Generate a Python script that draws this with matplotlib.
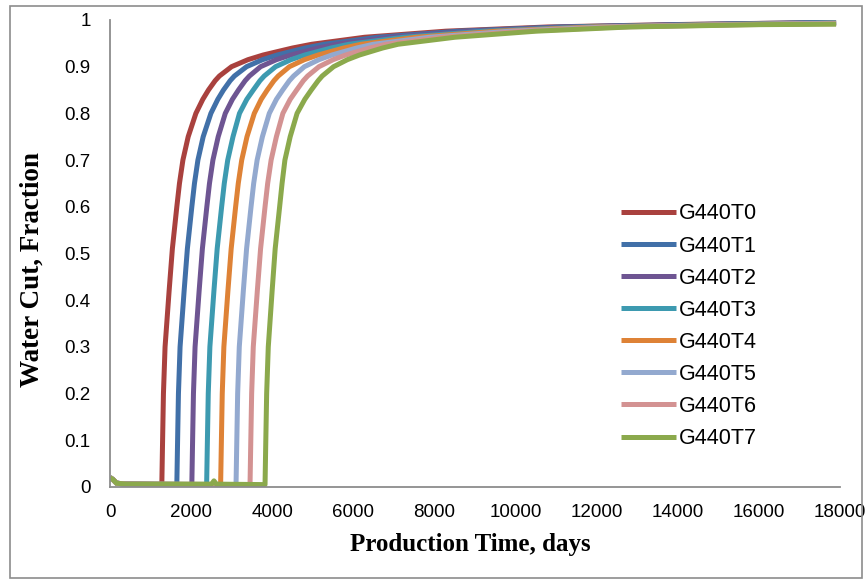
import matplotlib
matplotlib.use('Agg')
import matplotlib.pyplot as plt
from matplotlib.patches import Rectangle

# series names and colours (Excel style palette)
names = ['G440T0', 'G440T1', 'G440T2', 'G440T3', 'G440T4', 'G440T5', 'G440T6', 'G440T7']
colors = ['#A9413E', '#4170A8', '#6E5592', '#3D9AB0', '#DE8236', '#93A9CF', '#D39292', '#8BA94C']

# early production, before water breakthrough (same for all runs)
pre_days = [0, 80, 160, 400]
pre_wc = [0.02, 0.015, 0.008, 0.006]

# water cut levels and the day at which each run reaches them
wc_levels = [0.005, 0.08, 0.2, 0.3, 0.42, 0.51, 0.6, 0.65, 0.7, 0.75, 0.8, 0.83, 0.85, 0.87,
             0.88, 0.9, 0.915, 0.925, 0.94, 0.948, 0.963, 0.976, 0.985, 0.99]
days_at_level = [
    [1275, 1290, 1315, 1355, 1455, 1535, 1645, 1710, 1795, 1925, 2115, 2285, 2425, 2590,
     2695, 2995, 3400, 3775, 4500, 4975, 6275, 8275, 10775, 13775],
    [1645, 1660, 1685, 1725, 1825, 1905, 2015, 2080, 2165, 2295, 2485, 2655, 2795, 2960,
     3065, 3365, 3760, 4120, 4810, 5280, 6600, 8600, 11070, 14090],
    [2015, 2030, 2055, 2095, 2195, 2275, 2385, 2450, 2535, 2665, 2840, 3015, 3165, 3330,
     3435, 3710, 4100, 4460, 5130, 5580, 6920, 8920, 11360, 14410],
    [2380, 2395, 2420, 2460, 2560, 2640, 2750, 2815, 2900, 3030, 3190, 3370, 3530, 3695,
     3800, 4080, 4460, 4800, 5450, 5890, 7240, 9240, 11650, 14730],
    [2725, 2740, 2765, 2805, 2905, 2985, 3095, 3160, 3245, 3375, 3555, 3725, 3875, 4040,
     4145, 4420, 4790, 5130, 5760, 6190, 7550, 9550, 11930, 15040],
    [3105, 3120, 3145, 3185, 3285, 3365, 3475, 3540, 3625, 3755, 3925, 4100, 4255, 4420,
     4525, 4790, 5150, 5470, 6080, 6490, 7870, 9870, 12220, 15360],
    [3450, 3465, 3490, 3530, 3630, 3710, 3820, 3885, 3970, 4100, 4260, 4440, 4600, 4765,
     4870, 5150, 5500, 5810, 6400, 6800, 8180, 10180, 12510, 15680],
    [3820, 3835, 3860, 3900, 3995, 4070, 4180, 4240, 4310, 4440, 4610, 4800, 4960, 5130,
     5230, 5510, 5850, 6150, 6720, 7100, 8500, 10500, 12800, 16000],
]
end_day = 17900
end_wc = [0.995, 0.995, 0.994, 0.994, 0.993, 0.993, 0.992, 0.991]

# small bump on the last run before breakthrough
bump_days = [2500, 2560, 2620]
bump_wc = [0.006, 0.013, 0.006]

plt.rcParams['font.family'] = ['Liberation Sans', 'DejaVu Sans']

fig = plt.figure(figsize=(8.67, 5.79), dpi=100)
ax = fig.add_axes([0.127, 0.159, 0.842, 0.8065])

for i, name in enumerate(names):
    x = pre_days + days_at_level[i] + [end_day]
    y = pre_wc + wc_levels + [end_wc[i]]
    if i == 7:
        x = pre_days + bump_days + days_at_level[i] + [end_day]
        y = pre_wc + bump_wc + wc_levels + [end_wc[i]]
    ax.plot(x, y, color=colors[i], lw=3.6, label=name,
            solid_joinstyle='round', solid_capstyle='butt')

ax.set_xlim(0, 18000)
ax.set_ylim(0, 1)
ax.set_xticks(range(0, 18001, 2000))
ax.set_yticks([i / 10 for i in range(11)])
ax.set_yticklabels(['0', '0.1', '0.2', '0.3', '0.4', '0.5', '0.6', '0.7', '0.8', '0.9', '1'])
ax.tick_params(axis='both', length=0, labelsize=13.5)
ax.tick_params(axis='y', pad=14)
ax.tick_params(axis='x', pad=12)

for s in ['top', 'right']:
    ax.spines[s].set_visible(False)
for s in ['left', 'bottom']:
    ax.spines[s].set_color('#8c8c8c')
    ax.spines[s].set_linewidth(1.3)

ax.set_xlabel('Production Time, days', family='Liberation Serif', fontweight='bold', fontsize=18)
ax.set_ylabel('Water Cut, Fraction', family='Liberation Serif', fontweight='bold', fontsize=19.5)
ax.xaxis.set_label_coords(0.493, -0.099)
ax.yaxis.set_label_coords(-0.089, 0.465)

ax.legend(loc='upper left', bbox_to_anchor=(0.7, 0.607), frameon=False, fontsize=15.5,
          handlelength=2.55, handletextpad=0.15, labelspacing=0.515, borderaxespad=0, borderpad=0)

fig.patches.append(Rectangle((0.0115, 0.0017), 0.983, 0.988, transform=fig.transFigure,
                             fill=False, edgecolor='#8c8c8c', lw=1.2))

fig.savefig('out.png', dpi=100)
